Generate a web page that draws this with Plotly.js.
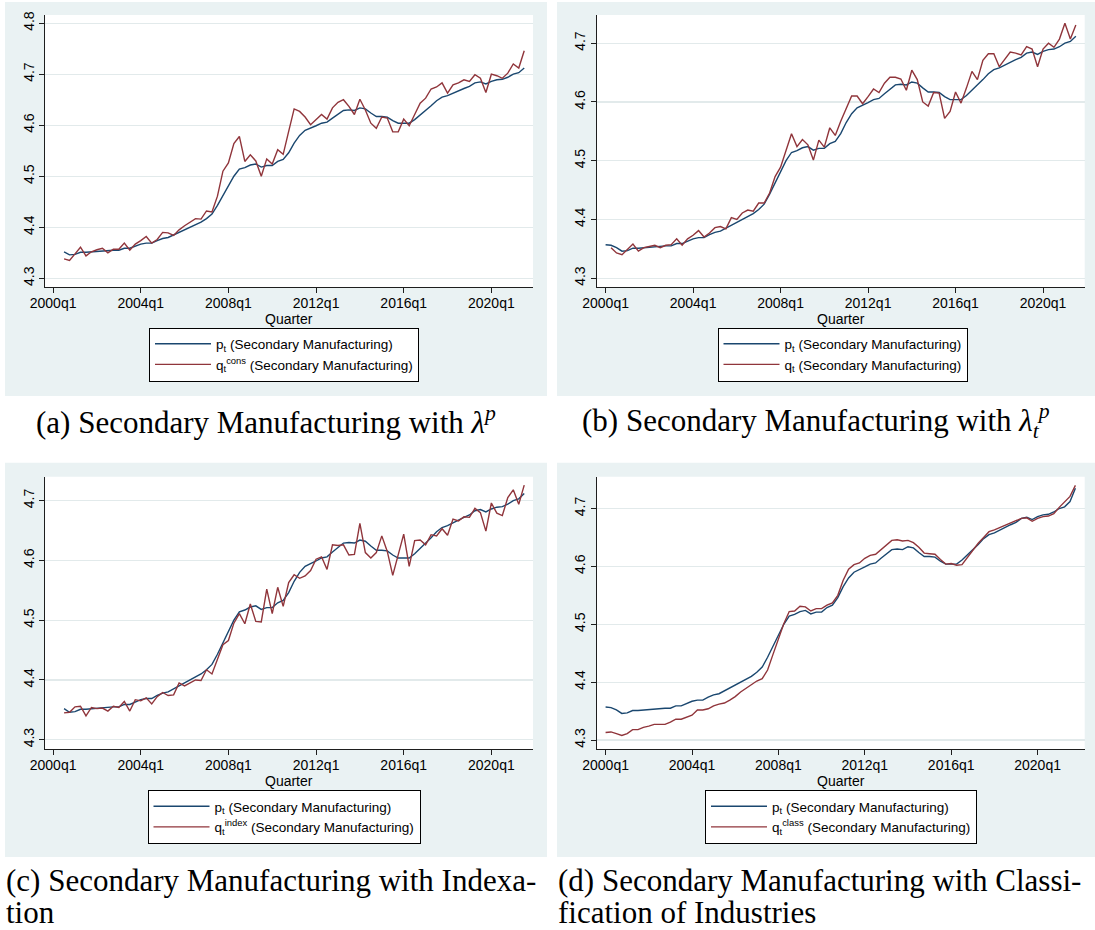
<!DOCTYPE html>
<html>
<head>
<meta charset="utf-8">
<script src="https://cdn.plot.ly/plotly-3.0.1.min.js"></script>
<style>
  html, body { margin: 0; padding: 0; background: #ffffff; }
  #chart { width: 1095px; height: 930px; }
</style>
</head>
<body>
<div id="chart"></div>
<script>
// Quarterly log price series, Secondary Manufacturing. Quarter index 0 = 2000q1.
const quarterTickText = ['2000q1', '2004q1', '2008q1', '2012q1', '2016q1', '2020q1'];
const yTicksA = [4.3, 4.4, 4.5, 4.6, 4.7, 4.8];
const yTicksBCD = [4.3, 4.4, 4.5, 4.6, 4.7];
const xAxisTitle = 'Quarter';

// p_t, 2000q1 .. 2021q4
const pSecondary = [
  4.357, 4.356, 4.352, 4.346, 4.347, 4.351, 4.351, 4.352, 4.352, 4.354,
  4.354, 4.355, 4.355, 4.359, 4.359, 4.363, 4.367, 4.369, 4.369, 4.374,
  4.378, 4.380, 4.385, 4.390, 4.395, 4.401, 4.405, 4.410, 4.417, 4.426,
  4.443, 4.462, 4.482, 4.500, 4.514, 4.517, 4.522, 4.524, 4.518, 4.521,
  4.521, 4.529, 4.533, 4.546, 4.565, 4.580, 4.590, 4.594, 4.599, 4.604,
  4.606, 4.614, 4.622, 4.629, 4.630, 4.629, 4.634, 4.632, 4.624, 4.617,
  4.617, 4.616, 4.609, 4.604, 4.604, 4.604, 4.611, 4.620, 4.628, 4.638,
  4.648, 4.655, 4.658, 4.663, 4.668, 4.672, 4.676, 4.683, 4.685, 4.681,
  4.686, 4.689, 4.690, 4.694, 4.700, 4.703, 4.712, 4.735
];

// q_t^cons, 2000q3 .. 2021q3
const qCons = [
  4.338, 4.335, 4.348, 4.361, 4.344, 4.352, 4.356, 4.359, 4.350, 4.357,
  4.357, 4.369, 4.355, 4.367, 4.374, 4.382, 4.369, 4.376, 4.390, 4.389,
  4.384, 4.395, 4.403, 4.410, 4.417, 4.416, 4.432, 4.430, 4.461, 4.510,
  4.526, 4.564, 4.578, 4.529, 4.542, 4.530, 4.500, 4.534, 4.524, 4.552,
  4.543, 4.588, 4.632, 4.627, 4.616, 4.601, 4.612, 4.621, 4.612, 4.634,
  4.645, 4.650, 4.637, 4.621, 4.651, 4.630, 4.604, 4.594, 4.616, 4.614,
  4.587, 4.587, 4.612, 4.599, 4.621, 4.643, 4.653, 4.671, 4.675, 4.683,
  4.663, 4.679, 4.683, 4.689, 4.686, 4.699, 4.692, 4.664, 4.700, 4.697,
  4.692, 4.702, 4.720, 4.712, 4.746
];

// q_t with time-varying lambda, 2000q2 .. 2021q3
const qTimeVarying = [
  4.352, 4.343, 4.340, 4.349, 4.358, 4.346, 4.352, 4.354, 4.356, 4.352,
  4.356, 4.357, 4.367, 4.356, 4.367, 4.373, 4.381, 4.370, 4.377, 4.386,
  4.388, 4.384, 4.403, 4.400, 4.411, 4.416, 4.414, 4.428, 4.428, 4.445,
  4.473, 4.489, 4.516, 4.546, 4.524, 4.536, 4.527, 4.501, 4.535, 4.523,
  4.556, 4.543, 4.567, 4.590, 4.610, 4.610, 4.597, 4.609, 4.622, 4.616,
  4.632, 4.642, 4.642, 4.639, 4.620, 4.654, 4.638, 4.600, 4.593, 4.616,
  4.615, 4.572, 4.584, 4.617, 4.598, 4.624, 4.652, 4.638, 4.671, 4.682,
  4.682, 4.660, 4.673, 4.685, 4.683, 4.680, 4.694, 4.690, 4.660, 4.690,
  4.700, 4.693, 4.707, 4.734, 4.707, 4.731
];

// q_t^index, 2000q3 .. 2021q3
const qIndex = [
  4.345, 4.346, 4.355, 4.356, 4.340, 4.354, 4.352, 4.353, 4.348, 4.356,
  4.354, 4.364, 4.348, 4.367, 4.365, 4.370, 4.360, 4.372, 4.379, 4.374,
  4.375, 4.395, 4.390, 4.395, 4.400, 4.399, 4.417, 4.410, 4.435, 4.459,
  4.466, 4.495, 4.511, 4.494, 4.527, 4.498, 4.497, 4.552, 4.511, 4.555,
  4.523, 4.563, 4.576, 4.570, 4.574, 4.583, 4.602, 4.606, 4.585, 4.626,
  4.625, 4.626, 4.609, 4.610, 4.662, 4.613, 4.604, 4.613, 4.641, 4.615,
  4.575, 4.608, 4.644, 4.590, 4.633, 4.634, 4.626, 4.643, 4.641, 4.653,
  4.642, 4.669, 4.666, 4.673, 4.672, 4.687, 4.680, 4.649, 4.696, 4.679,
  4.675, 4.705, 4.718, 4.694, 4.726
];

// q_t^class, 2000q1 .. 2021q4
const qClass = [
  4.313, 4.314, 4.311, 4.308, 4.311, 4.318, 4.318, 4.322, 4.324, 4.327,
  4.327, 4.327, 4.331, 4.336, 4.336, 4.339, 4.343, 4.352, 4.352, 4.354,
  4.359, 4.362, 4.364, 4.369, 4.375, 4.383, 4.389, 4.395, 4.402, 4.406,
  4.421, 4.448, 4.473, 4.501, 4.522, 4.523, 4.531, 4.530, 4.523, 4.527,
  4.527, 4.533, 4.537, 4.550, 4.576, 4.595, 4.603, 4.606, 4.614, 4.619,
  4.621, 4.629, 4.638, 4.645, 4.646, 4.644, 4.645, 4.641, 4.633, 4.623,
  4.622, 4.621, 4.612, 4.604, 4.605, 4.602, 4.603, 4.615, 4.629, 4.640,
  4.650, 4.660, 4.663, 4.667, 4.671, 4.676, 4.679, 4.683, 4.684, 4.678,
  4.683, 4.686, 4.687, 4.691, 4.702, 4.712, 4.721, 4.740
];

// ---- helpers -------------------------------------------------------------
const W = 1095, H = 930;
const px = x => x / W;          // pixel column -> paper x
const py = y => 1 - y / H;      // pixel row -> paper y
const SANS = 'Liberation Sans, Arial, sans-serif';
const SERIF = 'Liberation Serif, Times New Roman, serif';
const NAVY = '#1A476F', MAROON = '#90353B';
const REGION = '#EAF2F3', GRID = '#E2EAEB', AXIS = '#1e1e1e';

function quarterIndex(label) {
  const parts = label.split('q');
  return (Number(parts[0]) - 2000) * 4 + (Number(parts[1]) - 1);
}
function quarterRange(start, n) {
  const s = quarterIndex(start);
  return Array.from({ length: n }, (_, i) => s + i);
}
function pSlice(start, end) {
  return pSecondary.slice(quarterIndex(start), quarterIndex(end) + 1);
}

// ---- panel definitions ---------------------------------------------------
const panels = [
  { key: '', legend: 'legend', blue: ['2000q3', '2021q3'], red: qCons, redStart: '2000q3',
    redName: 'q<sub>t</sub><sup>cons</sup> (Secondary Manufacturing)',
    box: [45.1, 533, 15, 287], region: [5, 547, 2, 396],
    xr: [-1.46, 87.6], yr: [4.283, 4.816], yt: yTicksA, legendPos: [284, 327.5] },
  { key: '2', legend: 'legend2', blue: ['2000q1', '2021q3'], red: qTimeVarying, redStart: '2000q2',
    redName: 'q<sub>t</sub> (Secondary Manufacturing)',
    box: [596.9, 1084.7, 15, 287], region: [557, 1095, 2, 396],
    xr: [-1.59, 87.62], yr: [4.285, 4.748], yt: yTicksBCD, legendPos: [842.5, 327.5] },
  { key: '3', legend: 'legend3', blue: ['2000q3', '2021q3'], red: qIndex, redStart: '2000q3',
    redName: 'q<sub>t</sub><sup>index</sup> (Secondary Manufacturing)',
    box: [45.1, 533, 476.7, 749.3], region: [5, 547, 462.7, 857],
    xr: [-1.46, 87.6], yr: [4.284, 4.740], yt: yTicksBCD, legendPos: [284, 790] },
  { key: '4', legend: 'legend4', blue: ['2000q1', '2021q4'], red: qClass, redStart: '2000q1',
    redName: 'q<sub>t</sub><sup>class</sup> (Secondary Manufacturing)',
    box: [596.9, 1084.7, 476.7, 749.3], region: [557, 1095, 462.7, 857],
    xr: [-1.61, 88.72], yr: [4.284, 4.755], yt: yTicksBCD, legendPos: [841, 790] }
];

const traces = [];
const layout = {
  width: W, height: H,
  margin: { l: 0, r: 0, t: 0, b: 0, pad: 0 },
  paper_bgcolor: '#ffffff',
  plot_bgcolor: 'rgba(0,0,0,0)',
  font: { family: SANS, size: 14, color: '#000' },
  shapes: [],
  annotations: [],
  hovermode: false
};

panels.forEach(p => {
  const xa = 'x' + p.key, ya = 'y' + p.key;
  const bluePts = pSlice(p.blue[0], p.blue[1]);
  traces.push({
    type: 'scatter', mode: 'lines', xaxis: xa, yaxis: ya, legend: p.legend,
    x: quarterRange(p.blue[0], bluePts.length), y: bluePts,
    name: 'p<sub>t</sub> (Secondary Manufacturing)',
    line: { color: NAVY, width: 1.4 }
  });
  traces.push({
    type: 'scatter', mode: 'lines', xaxis: xa, yaxis: ya, legend: p.legend,
    x: quarterRange(p.redStart, p.red.length), y: p.red,
    name: p.redName,
    line: { color: MAROON, width: 1.4 }
  });

  const [l, r, t, b] = p.box;
  layout['xaxis' + p.key] = {
    domain: [px(l), px(r)], anchor: ya, range: p.xr,
    tickmode: 'array', tickvals: quarterTickText.map(quarterIndex), ticktext: quarterTickText,
    ticks: 'outside', ticklen: 5, tickwidth: 1, tickcolor: AXIS,
    showline: true, linecolor: AXIS, linewidth: 1,
    showgrid: false, zeroline: false, fixedrange: true,
    tickfont: { family: SANS, size: 14, color: '#000' },
    ticklabelstandoff: -2
  };
  layout['yaxis' + p.key] = {
    domain: [py(b), py(t)], anchor: xa, range: p.yr,
    tickmode: 'array', tickvals: p.yt, ticktext: p.yt.map(v => v.toFixed(1)),
    tickangle: -90,
    ticks: 'outside', ticklen: 5, tickwidth: 1, tickcolor: AXIS,
    showline: true, linecolor: AXIS, linewidth: 1,
    showgrid: true, gridcolor: GRID, gridwidth: 1.3,
    zeroline: false, fixedrange: true,
    tickfont: { family: SANS, size: 14, color: '#000' }
  };

  // x-axis title, centred under the plot region
  layout.annotations.push({ xref: 'paper', yref: 'paper', x: px((l + r) / 2), y: py(b + 32),
    xanchor: 'center', yanchor: 'middle', showarrow: false, text: xAxisTitle,
    font: { family: SANS, size: 14, color: '#000' } });

  // graph region and white plot region
  const [rl, rr, rt, rb] = p.region;
  layout.shapes.push({ type: 'rect', xref: 'paper', yref: 'paper', layer: 'below',
    x0: px(rl), x1: px(rr), y0: py(rb), y1: py(rt), fillcolor: REGION, line: { width: 0 } });
  layout.shapes.push({ type: 'rect', xref: 'paper', yref: 'paper', layer: 'below',
    x0: px(l), x1: px(r), y0: py(b), y1: py(t), fillcolor: '#ffffff', line: { width: 0 } });

  layout[p.legend] = {
    x: px(p.legendPos[0]), y: py(p.legendPos[1]), xanchor: 'center', yanchor: 'top',
    bgcolor: '#ffffff', bordercolor: '#000000', borderwidth: 1,
    font: { family: SANS, size: 13.5, color: '#000' },
    itemwidth: 56, tracegroupgap: 0, traceorder: 'normal', orientation: 'v'
  };
});

// sub-figure captions
const capFont = { family: SERIF, size: 31, color: '#000' };
function caption(text, x, y, anchor) {
  layout.annotations.push({ xref: 'paper', yref: 'paper', x: px(x), y: py(y),
    xanchor: anchor, yanchor: 'middle', showarrow: false, text: text, font: capFont });
}
caption('(a) Secondary Manufacturing with <i>λ</i><sup><i>p</i></sup>', 266, 421, 'center');
caption('(b) Secondary Manufacturing with <i>λ</i><sub><i>t</i></sub><sup><i>p</i></sup>', 816, 421, 'center');
caption('(c) Secondary Manufacturing with Indexa-', 4, 880, 'left');
caption('tion', 4, 912, 'left');
caption('(d) Secondary Manufacturing with Classi-', 556, 880, 'left');
caption('fication of Industries', 556, 912, 'left');

Plotly.newPlot('chart', traces, layout, { staticPlot: true, displayModeBar: false });
</script>
</body>
</html>
